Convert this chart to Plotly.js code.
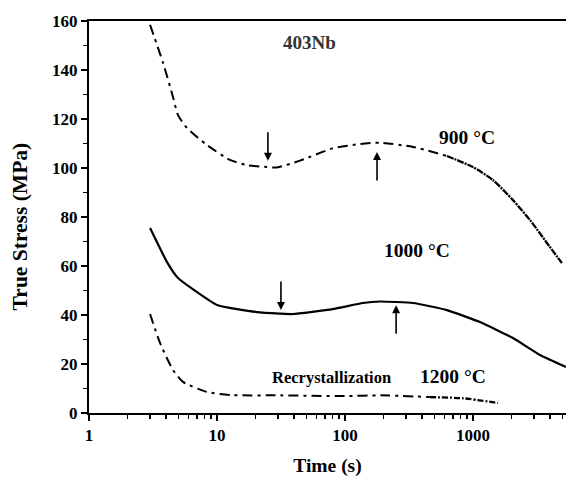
<!DOCTYPE html>
<html><head><meta charset="utf-8">
<script src="https://cdn.plot.ly/plotly-3.0.1.min.js"></script>
<style>html,body{margin:0;padding:0;background:#fff;overflow:hidden}#c{width:566px;height:477px}</style>
</head><body><div id="c"></div>
<script>
// 900 °C (dash-dot, noisy/dense towards long times)
const t900 = [3.0, 3.79, 4.53, 4.96, 5.83, 8.35, 12.6, 17.1, 24.6, 29.4, 44.5, 80, 131, 188, 340, 626, 1000, 1432, 2054, 2788, 3786, 4955];
const s900 = [158.4, 142.9, 129, 121.6, 116.3, 109.4, 103.3, 101.2, 100.4, 100.2, 103, 108, 109.8, 110.3, 108.6, 104.9, 100.4, 95.1, 86.9, 78.8, 69.4, 61.2];
// 1000 °C (solid)
const t1000 = [3.0, 4.07, 4.96, 10, 20.5, 31, 39.2, 80, 138, 188, 340, 626, 1135, 2054, 3337, 5330];
const s1000 = [75.5, 61.6, 55.1, 44.1, 41.2, 40.6, 40.4, 42.4, 44.9, 45.5, 44.9, 42, 37.1, 30.6, 23.7, 18.8];
// 1200 °C (dash-dot)
const t1200 = [3.0, 3.59, 4.53, 5.42, 8.35, 13.3, 31, 100, 188, 460, 840, 1570];
const s1200 = [40.4, 28.6, 17.6, 12.7, 8.6, 7.3, 7.2, 6.9, 7.2, 6.5, 6.0, 4.1];
// time beyond which the dash-dot records look continuous
const denseFrom900 = 626;
const denseFrom1200 = 460;
// arrows
const arrowT = [25, 178, 31.6, 251];
const arrowS = [103, 106.5, 42, 44];
const arrowDir = ['down', 'up', 'down', 'up'];
// labels
const labelText = ['403Nb', '900 °C', '1000 °C', 'Recrystallization', '1200 °C'];
const labelT = [53, 900, 365, 79, 698];
const labelS = [151.4, 112.6, 66.5, 14.3, 14.7];
const labelSize = [19, 19.5, 19.5, 16.5, 19.5];
// axis ticks
const xTickVals = [1, 10, 100, 1000];
const xTickText = ['1', '10', '100', '1000'];
const xMinorVals = [2,3,4,5,6,7,8,9,20,30,40,50,60,70,80,90,200,300,400,500,600,700,800,900,2000,3000,4000,5000];
const yTickVals = [0, 20, 40, 60, 80, 100, 120, 140, 160];

const font = 'Liberation Serif, serif';
const dd = '10px,5px,3px,5px';
function part(t, s, from, after) {
  const xs = [], ys = [];
  for (let i = 0; i < t.length; i++) {
    if (after ? t[i] >= from : t[i] <= from) { xs.push(t[i]); ys.push(s[i]); }
  }
  return [xs, ys];
}
const [a9x, a9y] = part(t900, s900, denseFrom900, false);
const [b9x, b9y] = part(t900, s900, denseFrom900, true);
const [a12x, a12y] = part(t1200, s1200, denseFrom1200, false);
const [b12x, b12y] = part(t1200, s1200, denseFrom1200, true);
const sp = {shape: 'spline', smoothing: 0.6};
const traces = [
  {x: a9x, y: a9y, mode: 'lines', line: Object.assign({color: '#000', width: 2, dash: dd}, sp), hoverinfo: 'skip'},
  {x: b9x, y: b9y, mode: 'lines', line: Object.assign({color: '#000', width: 2.3, dash: '7px,1px,2px,1px'}, sp), hoverinfo: 'skip'},
  {x: t1000, y: s1000, mode: 'lines', line: {color: '#000', width: 2.2, shape: 'spline', smoothing: 0.4}, hoverinfo: 'skip'},
  {x: a12x, y: a12y, mode: 'lines', line: Object.assign({color: '#000', width: 2, dash: dd}, sp), hoverinfo: 'skip'},
  {x: b12x, y: b12y, mode: 'lines', line: Object.assign({color: '#000', width: 2.3, dash: '6px,2px,2px,2px'}, sp), hoverinfo: 'skip'}
];
const annotations = [];
for (let i = 0; i < arrowT.length; i++) {
  annotations.push({x: Math.log10(arrowT[i]), y: arrowS[i], xref: 'x', yref: 'y', showarrow: true,
    arrowhead: 2, arrowsize: 1, arrowwidth: 1.6, arrowcolor: '#000', ax: 0,
    ay: arrowDir[i] === 'down' ? -30 : 30, text: ''});
}
for (let i = 0; i < labelText.length; i++) {
  annotations.push({x: Math.log10(labelT[i]), y: labelS[i], xref: 'x', yref: 'y', showarrow: false,
    text: '<b>' + labelText[i] + '</b>', font: {family: font, size: labelSize[i], color: i === 0 ? '#333' : '#000'}});
}
annotations.push({xref: 'paper', yref: 'paper', x: -0.1447, y: 0.476, xanchor: 'center', yanchor: 'middle',
  textangle: -90, showarrow: false, text: '<b>True Stress (MPa)</b>', font: {family: font, size: 21.5, color: '#000'}});
const tf = {family: font, size: 17, color: '#000', weight: 'bold'};
const layout = {
  width: 566, height: 477,
  margin: {l: 89, r: 0, t: 21, b: 64},
  paper_bgcolor: '#fff', plot_bgcolor: '#fff',
  showlegend: false,
  font: {family: font, color: '#000'},
  xaxis: {type: 'log', range: [0, 3.727], showgrid: false, zeroline: false,
    showline: true, linecolor: '#000', linewidth: 2, mirror: true,
    ticks: 'outside', ticklen: 6, tickwidth: 1.5, tickcolor: '#000',
    tickmode: 'array', tickvals: xTickVals, ticktext: xTickText.map(s => '<b>' + s + '</b>'),
    tickfont: tf,
    minor: {tickmode: 'array', tickvals: xMinorVals, ticks: 'outside', ticklen: 4, tickwidth: 1.5, tickcolor: '#000', showgrid: false},
    title: {text: '<b>Time (s)</b>', font: {family: font, size: 19.5, color: '#000'}, standoff: 14}},
  yaxis: {range: [0, 160], showgrid: false, zeroline: false,
    showline: true, linecolor: '#000', linewidth: 2, mirror: false,
    ticks: 'outside', ticklen: 6, tickwidth: 1.5, tickcolor: '#000',
    tickmode: 'array', tickvals: yTickVals, ticktext: yTickVals.map(v => '<b>' + v + '</b>'),
    tickfont: tf,
    minor: {dtick: 10, ticks: 'outside', ticklen: 4, tickwidth: 1.5, tickcolor: '#000', showgrid: false}},
  annotations: annotations
};
Plotly.newPlot('c', traces, layout, {staticPlot: true, displayModeBar: false});
</script></body></html>
